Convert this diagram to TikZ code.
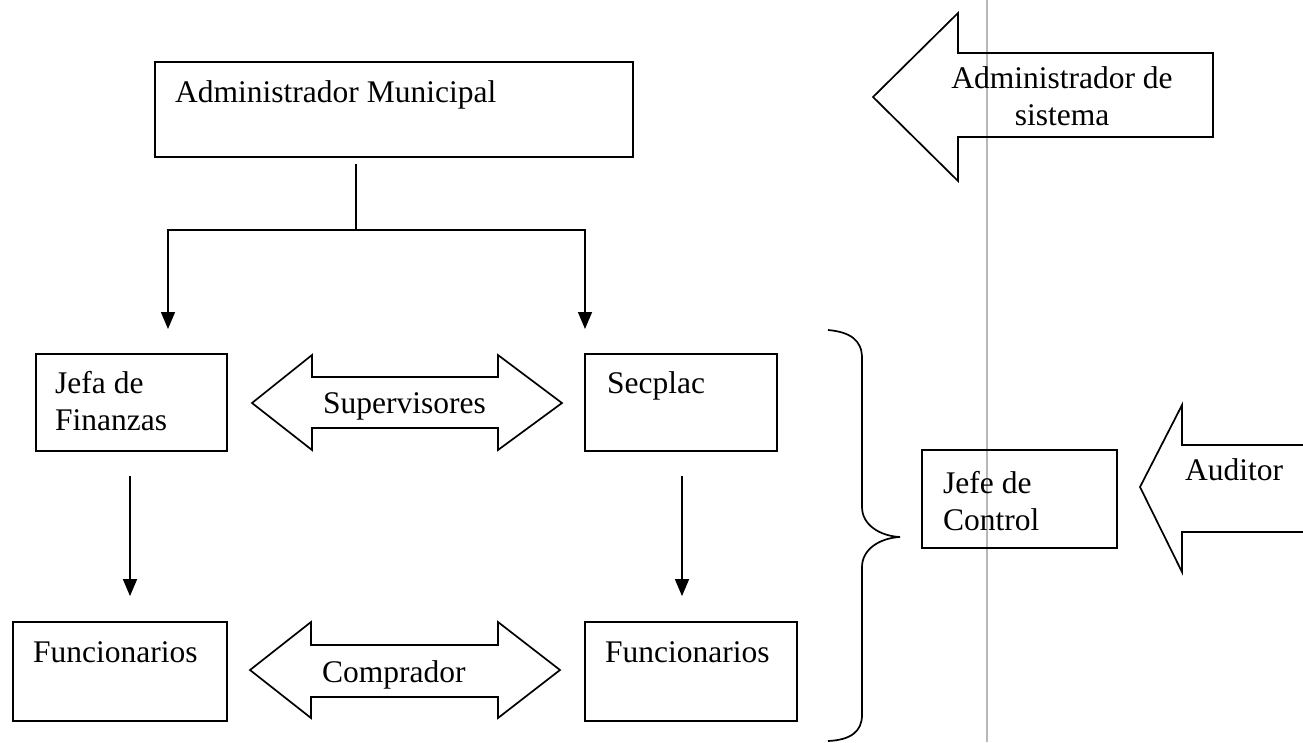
\documentclass[tikz,border=0pt]{standalone}
\usepackage{fontspec}
\setmainfont{Liberation Serif}
\usetikzlibrary{arrows.meta}
\begin{document}
\begin{tikzpicture}[x=1pt,y=-1pt,
  box/.style={draw,line width=1.8pt,inner sep=0pt},
  lbl/.style={inner sep=0pt,anchor=base west,font=\fontsize{31.5}{37}\selectfont},
  conn/.style={line width=1.2pt},
  arr/.style={line width=1.5pt,-{Triangle[width=14pt,length=17pt]}},
  bigarrow/.style={draw,line width=1.7pt,line join=miter},
  brace/.style={line width=1.7pt},
  fold/.style={line width=1.4pt,draw=black!28}]
\useasboundingbox (0,0) rectangle (1303,742);
% scan fold line
\draw[fold] (987,0) -- (987,742);
% boxes
\node[box,minimum width=478pt,minimum height=95pt] (adm) at (394,109.5) {};
\node[box,minimum width=191pt,minimum height=97pt] (jefa) at (131.5,402.5) {};
\node[box,minimum width=192pt,minimum height=97pt] (sec) at (681,402.5) {};
\node[box,minimum width=214pt,minimum height=99pt] (funL) at (120,671.5) {};
\node[box,minimum width=212pt,minimum height=99pt] (funR) at (691,671.5) {};
\node[box,minimum width=195pt,minimum height=98pt] (ctrl) at (1019.5,499) {};
% box texts
\node[lbl] (tadm) at (175,102) {Administrador Municipal};
\node[lbl] (tjefa) at (55,393) {\begin{tabular}[t]{@{}l@{}}Jefa de\\Finanzas\end{tabular}};
\node[lbl] (tsec) at (607,393) {Secplac};
\node[lbl] (tfunL) at (33,662) {Funcionarios};
\node[lbl] (tfunR) at (605,662) {Funcionarios};
\node[lbl] (tctrl) at (943,493) {\begin{tabular}[t]{@{}l@{}}Jefe de\\Control\end{tabular}};
% connectors
\coordinate (split) at (356,230);
\coordinate (tl) at (168,329);
\coordinate (tr) at (585,329);
\draw[conn] ([yshift=-6pt]adm.south -| split) -- (split);
\draw[arr] (split) -| (tl);
\draw[arr] (split) -| (tr);
\draw[arr] ([yshift=-24pt]jefa.south -| 130,0) -- ([yshift=25pt]funL.north -| 130,0);
\draw[arr] ([yshift=-24pt]sec.south -| 682,0) -- ([yshift=25pt]funR.north -| 682,0);
% double arrows
\path[bigarrow] (252,403) -- (312,355) -- (312,377) -- (498,377) -- (498,355) -- (562,403)
  -- (498,450) -- (498,428) -- (312,428) -- (312,450) -- cycle;
\node[lbl] (tsup) at (323,413) {Supervisores};
\path[bigarrow] (250,670) -- (311,622) -- (311,645) -- (498,645) -- (498,622) -- (560,670)
  -- (498,718) -- (498,697) -- (311,697) -- (311,718) -- cycle;
\node[lbl] (tcomp) at (322,682) {Comprador};
% left arrows
\path[bigarrow] (873,97) -- (958,13) -- (958,53) -- (1213,53) -- (1213,137) -- (958,137) -- (958,181) -- cycle;
\node[lbl,anchor=base] (tsis) at (1062,88) {\begin{tabular}[t]{@{}c@{}}Administrador de\\sistema\end{tabular}};
\path[bigarrow] (1303,445) -- (1182,445) -- (1182,405) -- (1140,487) -- (1182,572) -- (1182,532) -- (1303,532);
\node[lbl] (taud) at (1185,480) {Auditor};
% brace
\draw[brace] (828,330) .. controls (850,332) and (862,340) .. (862,358) -- (862,507)
  .. controls (862,525) and (880,536) .. (900,537)
  .. controls (880,538) and (862,549) .. (862,567) -- (862,715)
  .. controls (862,732) and (850,740) .. (828,741);
\end{tikzpicture}
\end{document}
